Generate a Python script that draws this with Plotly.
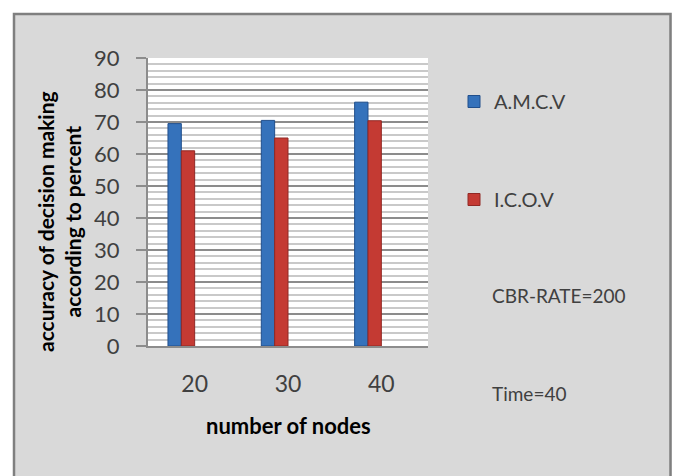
import plotly.graph_objects as go

categories = ["20", "30", "40"]
amcv = [69.5, 70.5, 76.2]
icov = [61.0, 65.0, 70.4]
series_names = ["A.M.C.V", "I.C.O.V"]
y_ticks = [0, 10, 20, 30, 40, 50, 60, 70, 80, 90]
notes = ["CBR-RATE=200", "Time=40"]

FONT = "Lato, Open Sans, sans-serif"
TXT = "#404040"

# plot area in px
L, R, T, B = 148, 428, 58, 346
W, H = 675, 476
pw, ph = R - L, B - T

def px_x(x):
    return (x - L) / pw

def px_y(y):
    return (B - y) / ph

fig = go.Figure()
fig.add_trace(go.Bar(
    x=categories, y=amcv, name=series_names[0], legendgroup="a",
    width=0.143, offset=-0.286,
    marker=dict(color="#3572bb", line=dict(color="#214f8c", width=1)),
))
fig.add_trace(go.Bar(
    x=categories, y=icov, name=series_names[1], legendgroup="b",
    width=0.143, offset=-0.143,
    marker=dict(color="#c43a33", line=dict(color="#912824", width=1)),
))

shapes = [
    dict(type="rect", xref="paper", yref="paper", x0=px_x(-5), x1=px_x(13), y0=px_y(500), y1=px_y(-5),
         fillcolor="white", line=dict(width=0), layer="below"),
    dict(type="rect", xref="paper", yref="paper", x0=px_x(-5), x1=px_x(680), y0=px_y(13), y1=px_y(-5),
         fillcolor="white", line=dict(width=0), layer="below"),
    dict(type="rect", xref="paper", yref="paper", x0=px_x(671.5), x1=px_x(680), y0=px_y(500), y1=px_y(-5),
         fillcolor="white", line=dict(width=0), layer="below"),
    dict(type="rect", xref="paper", yref="paper", x0=px_x(14), x1=px_x(670.5), y0=px_y(520), y1=px_y(14),
         fillcolor="rgba(0,0,0,0)", line=dict(color="#7f7f7f", width=2.5), layer="below"),
]

annotations = [
    dict(text="accuracy of decision making<br>according to percent", xref="paper", yref="paper",
         x=px_x(59), y=px_y(222), xanchor="center", yanchor="middle", textangle=-90, showarrow=False,
         font=dict(family=FONT, size=21, color="black", weight="bold"), align="center"),
    dict(text="number of nodes", xref="paper", yref="paper",
         x=px_x(288), y=px_y(425), xanchor="center", yanchor="middle", showarrow=False,
         font=dict(family=FONT, size=22, color="black", weight="bold")),
    dict(text=notes[0], xref="paper", yref="paper", x=px_x(490), y=px_y(295),
         xanchor="left", yanchor="middle", showarrow=False, font=dict(family=FONT, size=19, color=TXT)),
    dict(text=notes[1], xref="paper", yref="paper", x=px_x(490), y=px_y(393),
         xanchor="left", yanchor="middle", showarrow=False, font=dict(family=FONT, size=19, color=TXT)),
]

fig.update_layout(
    width=W, height=H,
    margin=dict(l=L, r=W - R, t=T, b=H - B, pad=0),
    paper_bgcolor="#d9d9d9", plot_bgcolor="white",
    barmode="overlay",
    showlegend=True,
    legend=dict(x=px_x(454), y=px_y(82), xanchor="left", yanchor="top",
                bgcolor="rgba(0,0,0,0)", tracegroupgap=69,
                font=dict(family=FONT, size=20, color=TXT), itemwidth=30),
    shapes=shapes, annotations=annotations,
)
fig.update_xaxes(
    type="category", range=[-0.5, 2.5],
    showgrid=False, showline=True, linecolor="#8c8c8c", linewidth=2,
    ticks="", tickfont=dict(family=FONT, size=23, color=TXT),
    ticklabelstandoff=16,
)
fig.update_yaxes(
    range=[0, 90], tickvals=y_ticks,
    showgrid=True, gridcolor="#8c8c8c", gridwidth=1.5,
    minor=dict(dtick=2, showgrid=True, gridcolor="#c9c9c9", gridwidth=1.5, ticks=""),
    showline=True, linecolor="#8c8c8c", linewidth=2,
    ticks="outside", ticklen=10, tickcolor="#8c8c8c", tickwidth=2,
    tickfont=dict(family=FONT, size=22, color=TXT),
    ticklabelstandoff=12, zeroline=False,
)

fig.write_html("out.html")
